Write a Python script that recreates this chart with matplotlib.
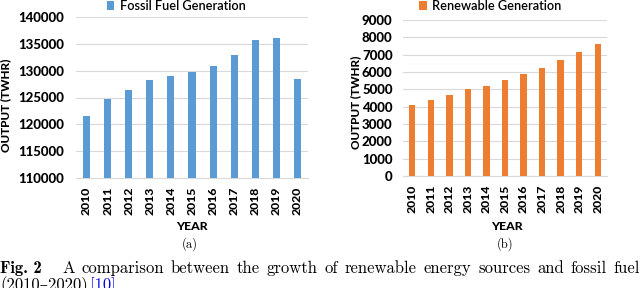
import matplotlib
matplotlib.use("Agg")
import matplotlib.pyplot as plt

years = [str(y) for y in range(2010, 2021)]
fossil = [121500, 124700, 126400, 128200, 129000, 129700, 130800, 132900, 135700, 136000, 128500]
renewable = [4080, 4380, 4690, 5040, 5190, 5520, 5880, 6210, 6690, 7130, 7630]
caption = "A comparison between the growth of renewable energy sources and fossil fuel"

W, H = 640, 288
fig = plt.figure(figsize=(6.4, 2.88), dpi=100)
sans = "Lato"
serif = ["cmr10", "DejaVu Serif"]


def px(x0, y0, x1, y1):
    # pixel box (top-left origin) -> figure fraction rect
    return [x0 / W, 1 - y1 / H, (x1 - x0) / W, (y1 - y0) / H]


def panel(rect, values, color, ylim, step, label, pad, legend_xy, ylab_xy, year_x):
    ax = fig.add_axes(px(*rect))
    ax.bar(range(len(years)), values, width=0.34, color=color, zorder=3, label=label)
    ax.set_xlim(-0.5, len(years) - 0.5)
    ax.set_ylim(*ylim)
    ax.set_yticks(range(ylim[0], ylim[1] + 1, step))
    ax.set_xticks(range(len(years)))
    ax.set_xticklabels(years, rotation=90)
    ax.grid(axis="y", color="#d9d9d9", linewidth=0.8, zorder=0)
    for s in ["top", "right", "left"]:
        ax.spines[s].set_visible(False)
    ax.spines["bottom"].set_color("#d9d9d9")
    ax.tick_params(length=0)
    ax.tick_params(axis="y", pad=pad)
    ax.tick_params(axis="x", pad=6)
    for t in ax.get_yticklabels():
        t.set_fontfamily(sans)
        t.set_fontweight("black")
        t.set_fontsize(9.5)
    for t in ax.get_xticklabels():
        t.set_fontfamily(sans)
        t.set_fontweight("black")
        t.set_fontsize(8.8)
    ax.legend(loc="center", bbox_to_anchor=(legend_xy[0] / W, 1 - legend_xy[1] / H),
              bbox_transform=fig.transFigure, frameon=False, handlelength=0.6,
              handleheight=0.6, handletextpad=0.4,
              prop={"family": sans, "size": 9.2, "weight": "semibold"})
    fig.text(ylab_xy[0] / W, 1 - ylab_xy[1] / H, "OUTPUT (TWHR)", rotation=90,
             ha="center", va="center", family=sans, weight="black", size=8.5)
    fig.text(year_x / W, 1 - 226 / H, "YEAR", ha="center", va="center",
             family=sans, weight="black", size=8.8)
    return ax


panel((76, 17, 308, 178), fossil, "#5b9bd5", (110000, 140000), 5000,
      "Fossil Fuel Generation", 8.5, (176, 6), (6, 105), 192)
panel((403, 20, 607, 176), renewable, "#ed7d31", (0, 9000), 1000,
      "Renewable Generation", 7.5, (490, 6), (356, 102), 507)

fig.text(190 / W, 1 - 244 / H, "(a)", ha="center", va="center", family=serif, size=9)
fig.text(505 / W, 1 - 244 / H, "(b)", ha="center", va="center", family=serif, size=9)

# caption, justified between x=62 and x=640
base1 = 1 - 273 / H
fig.text(0, base1, "Fig. 2", ha="left", va="baseline", family="cmb10", size=12)
words = [fig.text(0, base1, w, ha="left", va="baseline", family=serif, size=12)
         for w in caption.split()]
fig.canvas.draw()
r = fig.canvas.get_renderer()
widths = [w.get_window_extent(r).width for w in words]
gap = (640 - 62 - sum(widths)) / (len(words) - 1)
x = 62
for w, wd in zip(words, widths):
    w.set_x(x / W)
    x += wd + gap

base2 = 1 - 290 / H
fig.text(0, base2, "(2010\u20132020)", ha="left", va="baseline", family=serif, size=12)
fig.text(90 / W, base2, "[10]", ha="left", va="baseline", family=serif, size=12,
         color="#0000ee")

fig.savefig("out.png", dpi=100)
